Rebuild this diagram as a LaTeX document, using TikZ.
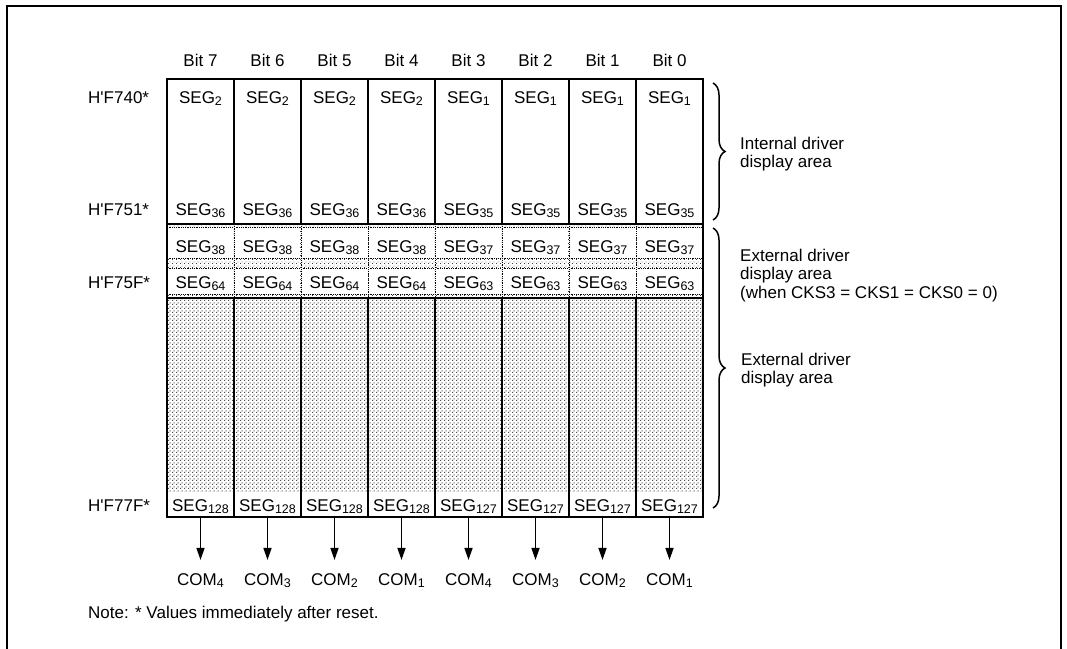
\documentclass[tikz,border=0pt]{standalone}
\usepackage{fontspec}
\setmainfont{Liberation Sans}
\usetikzlibrary{patterns,decorations.pathreplacing,arrows.meta}
\pgfdeclarepatternformonly{densestip}{\pgfqpoint{0pt}{0pt}}{\pgfqpoint{4pt}{4pt}}{\pgfqpoint{4pt}{4pt}}{%
  \pgfpathrectangle{\pgfqpoint{0pt}{0pt}}{\pgfqpoint{1.4pt}{1.4pt}}%
  \pgfpathrectangle{\pgfqpoint{2pt}{2pt}}{\pgfqpoint{1.4pt}{1.4pt}}%
  \pgfusepath{fill}}
\pgfdeclarepatternformonly{lightstip}{\pgfqpoint{0pt}{0pt}}{\pgfqpoint{4pt}{4pt}}{\pgfqpoint{4pt}{4pt}}{%
  \pgfpathrectangle{\pgfqpoint{0pt}{0pt}}{\pgfqpoint{1pt}{1pt}}%
  \pgfpathrectangle{\pgfqpoint{2pt}{2pt}}{\pgfqpoint{1pt}{1pt}}%
  \pgfusepath{fill}}
\newcommand\sbs[1]{\raisebox{-0.3ex}{\fontsize{12.5}{12.5}\selectfont #1}}
\begin{document}
\begin{tikzpicture}[x=1pt,y=-1pt,
  font=\fontsize{17}{18.5}\selectfont,
  lbl/.style={inner sep=0pt, anchor=base},
  lbw/.style={inner sep=0pt, anchor=base west},
  frameline/.style={line width=2.2pt},
  gridline/.style={line width=1.5pt},
  boxline/.style={line width=2pt},
  dotline/.style={line width=0.8pt, densely dotted},
  arr/.style={-{Triangle[length=12pt,width=8pt]}, line width=1.5pt, shorten >=13pt},
  brc/.style={decorate, decoration={brace, amplitude=12pt}, line width=1.5pt}]
\useasboundingbox (0,0) rectangle (1067,648);
% outer frame
\draw[frameline] (7,650) -- (7,6) -- (1061,6) -- (1061,650);

% light band
\fill[pattern=lightstip, pattern color=black!75] (167,224) rectangle (703,298);
\foreach \i in {0,...,7}{
  \fill[white] ({167+67*\i+1},227) rectangle ({234+67*\i-1},258);
  \fill[white] ({167+67*\i+1},268) rectangle ({234+67*\i-1},294);
  \draw[dotline] ({167+67*\i+1.5},227) -- ({234+67*\i-1.5},227);
  \draw[dotline] ({167+67*\i+1.5},258) -- ({234+67*\i-1.5},258);
  \draw[dotline] ({167+67*\i+1.5},268) -- ({234+67*\i-1.5},268);
  \draw[dotline] ({167+67*\i+1.5},294) -- ({234+67*\i-1.5},294);
}
\foreach \i in {1,...,7}{
  \draw[dotline] ({167+67*\i},224) -- ({167+67*\i},298);
}
% dense area
\fill[pattern=densestip, pattern color=black!70] (167,298) rectangle (703,492);
\fill[white] (167,492) rectangle (703,517);
% solid separators
\foreach \i in {1,...,7}{
  \draw[gridline] ({167+67*\i},79) -- ({167+67*\i},224);
  \draw[gridline] ({167+67*\i},298) -- ({167+67*\i},517);
}
\draw[boxline] (167,224) -- (703,224);
\draw[boxline] (167,298) -- (703,298);
\draw[boxline] (167,79) rectangle (703,517);

% texts in columns
\foreach \i/\b/\ta/\tb/\tc/\td/\te/\cm in {
  0/7/2/36/38/64/128/4, 1/6/2/36/38/64/128/3, 2/5/2/36/38/64/128/2, 3/4/2/36/38/64/128/1,
  4/3/1/35/37/63/127/4, 5/2/1/35/37/63/127/3, 6/1/1/35/37/63/127/2, 7/0/1/35/37/63/127/1}{
  \node[lbl] (bit\i) at ({200.5+67*\i},66.5) {Bit \b};
  \node[lbl] (sa\i) at ({200.5+67*\i},103) {SEG\sbs{\ta}};
  \node[lbl] (sb\i) at ({200.5+67*\i},215) {SEG\sbs{\tb}};
  \node[lbl] (sc\i) at ({200.5+67*\i},252) {SEG\sbs{\tc}};
  \node[lbl] (sd\i) at ({200.5+67*\i},288) {SEG\sbs{\td}};
  \node[lbl] (se\i) at ({200.5+67*\i},511) {SEG\sbs{\te}};
  \coordinate (bot\i) at ({200.5+67*\i},517);
  \node[lbl] (com\i) at ({200.5+67*\i},585) {COM\sbs{\cm}};
  \draw[arr] (bot\i) -- (com\i.north);
}

% address labels
\node[lbw] (a740) at (88,103) {H\textquotesingle F740*};
\node[lbw] (a751) at (88,215) {H\textquotesingle F751*};
\node[lbw] (a75f) at (88,288) {H\textquotesingle F75F*};
\node[lbw] (a77f) at (88,511) {H\textquotesingle F77F*};

% braces
\coordinate (b1t) at (713,83);
\coordinate (b1b) at (713,220);
\coordinate (b2t) at (713,228);
\coordinate (b2b) at (713,508);
\draw[brc] (b1t) -- (b1b);
\draw[brc] (b2t) -- (b2b);

\node[lbw] (int1) at (740,149) {Internal driver};
\node[lbw] (int2) at (740,167.5) {display area};
\node[lbw] (ext1) at (740,261) {External driver};
\node[lbw] (ext2) at (740,279.5) {display area};
\node[lbw] (ext3) at (740,298) {(when CKS3 = CKS1 = CKS0 = 0)};
\node[lbw] (ex21) at (741,365) {External driver};
\node[lbw] (ex22) at (741,383.5) {display area};

\node[lbw] (note) at (88,618) {Note: * Values immediately after reset.};
\end{tikzpicture}
\end{document}
